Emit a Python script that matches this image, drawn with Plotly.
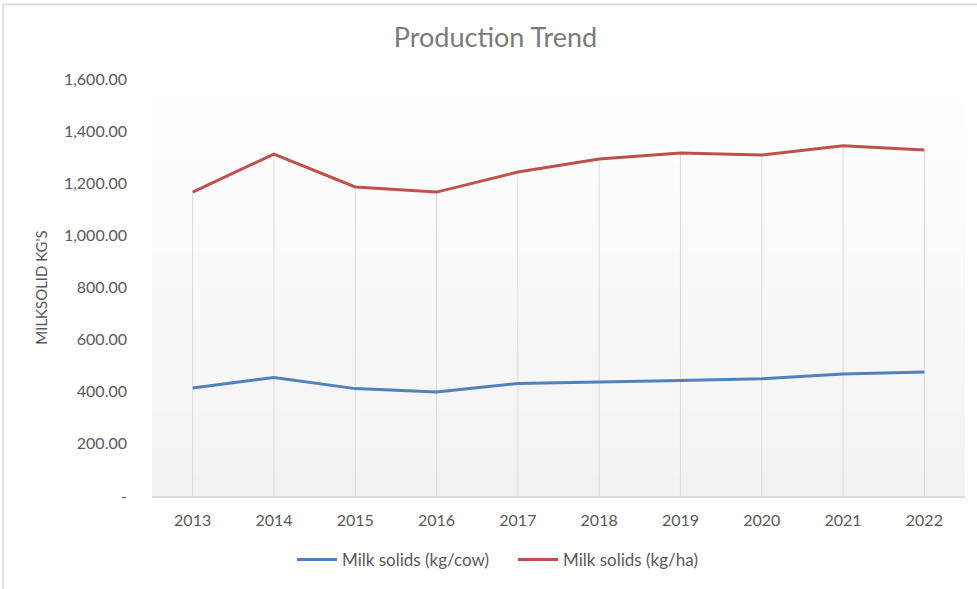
import plotly.graph_objects as go

years = ["2013", "2014", "2015", "2016", "2017", "2018", "2019", "2020", "2021", "2022"]
kg_per_cow = [414, 455, 412, 399, 432, 437, 443, 450, 468, 476]
kg_per_ha = [1166, 1312, 1186, 1166, 1243, 1293, 1316, 1308, 1344, 1328]
y_tickvals = [0, 200, 400, 600, 800, 1000, 1200, 1400, 1600]
y_ticktext = ["-", "200.00", "400.00", "600.00", "800.00", "1,000.00", "1,200.00", "1,400.00", "1,600.00"]

FONT = "Lato, 'Open Sans', sans-serif"
W, H = 977, 589
ML, MR, MT, MB = 152, 12, 79, 92
PW, PH = W - ML - MR, H - MT - MB

fig = go.Figure()

# drop lines from the highest point to the axis
dx, dy = [], []
for yr, a, b in zip(years, kg_per_cow, kg_per_ha):
    dx += [yr, yr, None]
    dy += [0, max(a, b), None]
fig.add_trace(go.Scatter(x=dx, y=dy, mode="lines", showlegend=False, hoverinfo="skip",
                         line=dict(color="#d9d9d9", width=1)))

fig.add_trace(go.Scatter(x=years, y=kg_per_cow, mode="lines", name="Milk solids (kg/cow)",
                         line=dict(color="#4f81bd", width=3)))
fig.add_trace(go.Scatter(x=years, y=kg_per_ha, mode="lines", name="Milk solids (kg/ha)",
                         line=dict(color="#c0504d", width=3)))

# gradient plot background (white at top -> light grey at bottom)
shapes = []
N = 60
for i in range(N):
    t = i / (N - 1)
    v = round(242 + (255 - 242) * t)
    col = f"rgb({v},{v},{v})"
    shapes.append(dict(type="rect", xref="x domain", yref="y domain",
                       x0=0, x1=1, y0=i / N, y1=min(1, (i + 1) / N + 0.002),
                       fillcolor=col, line=dict(width=0), layer="below"))
# chart border (left and top visible)
bx = (3 - ML) / PW
by = (H - MB - 4) / PH
shapes.append(dict(type="line", xref="paper", yref="paper", x0=bx, x1=bx, y0=-1, y1=by,
                   line=dict(color="#d9d9d9", width=1.5)))
shapes.append(dict(type="line", xref="paper", yref="paper", x0=bx, x1=2, y0=by, y1=by,
                   line=dict(color="#d9d9d9", width=1.5)))

fig.update_layout(
    width=W, height=H,
    margin=dict(l=ML, r=MR, t=MT, b=MB),
    paper_bgcolor="white", plot_bgcolor="white",
    font=dict(family=FONT, color="#595959", size=16),
    title=dict(text="Production Trend", x=495.5 / W, xref="container", xanchor="center",
               y=1 - 38 / H, yref="container", yanchor="middle",
               font=dict(family=FONT, size=27, color="#7a7a7a")),
    shapes=shapes,
    showlegend=True,
    legend=dict(orientation="h", x=(292 - ML) / PW, xanchor="left",
                y=-(560 - (H - MB)) / PH, yanchor="middle",
                font=dict(family=FONT, size=17, color="#595959"),
                bgcolor="rgba(0,0,0,0)", itemwidth=40, tracegroupgap=0,
                entrywidth=166, entrywidthmode="pixels"),
    xaxis=dict(type="category", range=[-0.5, 9.5], showgrid=False, zeroline=False,
               showline=True, linecolor="#d9d9d9", linewidth=1.5, ticks="",
               tickfont=dict(size=16, color="#595959"), ticklabelstandoff=9),
    yaxis=dict(range=[0, 1600], tickvals=y_tickvals, ticktext=y_ticktext, showgrid=False,
               zeroline=False, showline=False, ticks="", ticklabelstandoff=24,
               tickfont=dict(size=16, color="#595959"),
               title=dict(text="MILKSOLID KG'S", standoff=12,
                          font=dict(size=15, color="#595959"))),
)

fig.write_html("out.html", config={"displayModeBar": False},
               post_script="document.body.style.margin='0';")
